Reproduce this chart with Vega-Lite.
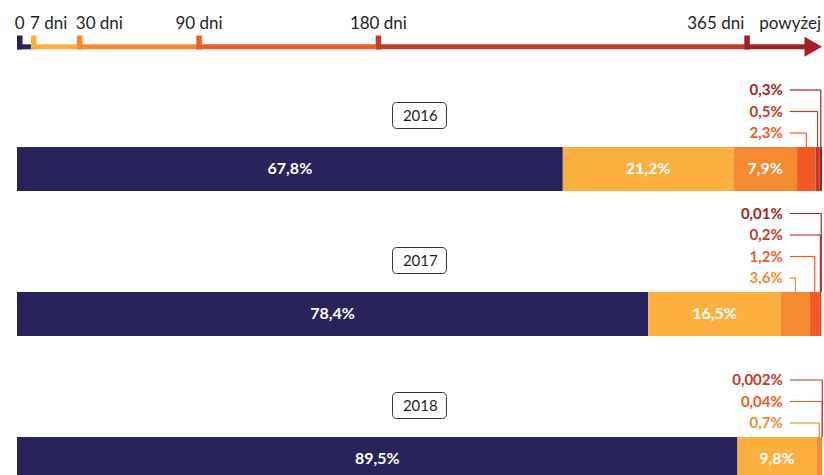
{
  "$schema": "https://vega.github.io/schema/vega-lite/v6.json",
  "width": 805,
  "height": 475,
  "padding": {"left": 17, "right": 2, "top": 0, "bottom": 0},
  "autosize": "none",
  "background": "white",
  "config": {
    "view": {"stroke": null},
    "axis": {"labels": false, "ticks": false, "domain": false, "grid": false, "title": null},
    "text": {"font": "Lato"}
  },
  "datasets": {
    "timeline": [
      {"cat": "0-7 dni", "start": 0, "end": 7, "label": "0"},
      {"cat": "7-30 dni", "start": 7, "end": 30, "label": "7 dni"},
      {"cat": "30-90 dni", "start": 30, "end": 90, "label": "30 dni"},
      {"cat": "90-180 dni", "start": 90, "end": 180, "label": "90 dni"},
      {"cat": "180-365 dni", "start": 180, "end": 365, "label": "180 dni"},
      {"cat": "powyżej 365 dni", "start": 365, "end": 398, "label": "365 dni", "after": "powyżej"}
    ],
    "shares": [
      {"year": 2016, "cat": "0-7 dni", "k": 1, "value": 67.8},
      {"year": 2016, "cat": "7-30 dni", "k": 2, "value": 21.2},
      {"year": 2016, "cat": "30-90 dni", "k": 3, "value": 7.9},
      {"year": 2016, "cat": "90-180 dni", "k": 4, "value": 2.3},
      {"year": 2016, "cat": "180-365 dni", "k": 5, "value": 0.5},
      {"year": 2016, "cat": "powyżej 365 dni", "k": 6, "value": 0.3},
      {"year": 2017, "cat": "0-7 dni", "k": 1, "value": 78.4},
      {"year": 2017, "cat": "7-30 dni", "k": 2, "value": 16.5},
      {"year": 2017, "cat": "30-90 dni", "k": 3, "value": 3.6},
      {"year": 2017, "cat": "90-180 dni", "k": 4, "value": 1.2},
      {"year": 2017, "cat": "180-365 dni", "k": 5, "value": 0.2},
      {"year": 2017, "cat": "powyżej 365 dni", "k": 6, "value": 0.01},
      {"year": 2018, "cat": "0-7 dni", "k": 1, "value": 89.5},
      {"year": 2018, "cat": "7-30 dni", "k": 2, "value": 9.8},
      {"year": 2018, "cat": "30-90 dni", "k": 3, "value": 0.7},
      {"year": 2018, "cat": "90-180 dni", "k": 4, "value": 0.04},
      {"year": 2018, "cat": "180-365 dni", "k": 5, "value": 0.002}
    ]
  },
  "resolve": {"scale": {"x": "independent"}},
  "layer": [
    {
      "data": {"name": "timeline"},
      "transform": [
        {"calculate": "4.68", "as": "lineY"},
        {"calculate": "4.25", "as": "tickY"},
        {"calculate": "2.9", "as": "labY"},
        {"calculate": "404", "as": "tip"}
      ],
      "layer": [
        {
          "mark": {"type": "rule", "strokeWidth": 5, "strokeCap": "butt"},
          "encoding": {
            "x": {"field": "start", "type": "quantitative", "scale": {"domain": [0, 404], "nice": false, "zero": false}, "axis": null},
            "x2": {"field": "end"},
            "y": {"field": "lineY", "type": "quantitative", "scale": {"domain": [0, 47.5], "reverse": true, "nice": false, "zero": false}, "axis": null},
            "color": {"field": "cat", "type": "nominal", "legend": null, "scale": {"domain": ["0-7 dni", "7-30 dni", "30-90 dni", "90-180 dni", "180-365 dni", "powyżej 365 dni"], "range": ["#29235c", "#fbb040", "#f58a33", "#f15a24", "#c53a2a", "#a51e24"]}}
          }
        },
        {
          "mark": {"type": "point", "shape": "M0,-1H0.79V1H0Z", "size": 196, "filled": true, "opacity": 1, "strokeWidth": 0},
          "encoding": {
            "x": {"field": "start", "type": "quantitative"},
            "y": {"field": "tickY", "type": "quantitative"},
            "color": {"field": "cat", "type": "nominal"}
          }
        },
        {
          "transform": [{"filter": "isValid(datum.after)"}],
          "mark": {"type": "point", "shape": "M0,0L-1.75,-1L-1.75,1Z", "size": 400, "filled": true, "opacity": 1, "strokeWidth": 0},
          "encoding": {
            "x": {"field": "tip", "type": "quantitative"},
            "y": {"field": "lineY", "type": "quantitative"},
            "color": {"field": "cat", "type": "nominal"}
          }
        },
        {
          "transform": [{"filter": {"field": "label", "oneOf": ["0", "90 dni", "180 dni"]}}],
          "mark": {"type": "text", "align": "center", "baseline": "alphabetic", "fontSize": 17, "dx": 2.75, "color": "#231f20"},
          "encoding": {
            "x": {"field": "start", "type": "quantitative"},
            "y": {"field": "labY", "type": "quantitative"},
            "text": {"field": "label"}
          }
        },
        {
          "transform": [{"filter": {"field": "label", "oneOf": ["7 dni", "30 dni"]}}],
          "mark": {"type": "text", "align": "left", "baseline": "alphabetic", "fontSize": 17, "dx": -1, "color": "#231f20"},
          "encoding": {
            "x": {"field": "start", "type": "quantitative"},
            "y": {"field": "labY", "type": "quantitative"},
            "text": {"field": "label"}
          }
        },
        {
          "transform": [{"filter": {"field": "label", "oneOf": ["365 dni"]}}],
          "mark": {"type": "text", "align": "right", "baseline": "alphabetic", "fontSize": 17, "dx": 0, "color": "#231f20"},
          "encoding": {
            "x": {"field": "start", "type": "quantitative"},
            "y": {"field": "labY", "type": "quantitative"},
            "text": {"field": "label"}
          }
        },
        {
          "transform": [{"filter": "isValid(datum.after)"}],
          "mark": {"type": "text", "align": "right", "baseline": "alphabetic", "fontSize": 17, "dx": -1, "color": "#231f20"},
          "encoding": {
            "x": {"field": "tip", "type": "quantitative"},
            "y": {"field": "labY", "type": "quantitative"},
            "text": {"field": "after"}
          }
        }
      ]
    },
    {
      "data": {"name": "shares"},
      "transform": [
        {"stack": "value", "groupby": ["year"], "sort": [{"field": "k", "order": "ascending"}], "as": ["s0", "s1"], "offset": "zero"},
        {"calculate": "(datum.s0 + datum.s1) / 2", "as": "mid"},
        {"calculate": "14.7 + 14.5 * (datum.year - 2016)", "as": "top"},
        {"calculate": "datum.top + 4.4", "as": "bot"},
        {"calculate": "datum.top + 2.2", "as": "cy"},
        {"calculate": "replace(toString(datum.value), '.', ',') + '%'", "as": "txt"},
        {"calculate": "96", "as": "lx"}
      ],
      "layer": [
        {
          "mark": {"type": "rect", "clip": true},
          "encoding": {
            "x": {"field": "s0", "type": "quantitative", "scale": {"domain": [0, 100], "nice": false, "zero": false}, "axis": null},
            "x2": {"field": "s1"},
            "y": {"field": "top", "type": "quantitative"},
            "y2": {"field": "bot"},
            "color": {"field": "cat", "type": "nominal"}
          }
        },
        {
          "transform": [{"filter": "datum.value >= 5"}],
          "mark": {"type": "text", "align": "center", "baseline": "middle", "fontSize": 16, "fontWeight": "bold", "color": "white"},
          "encoding": {
            "x": {"field": "mid", "type": "quantitative"},
            "y": {"field": "cy", "type": "quantitative"},
            "text": {"field": "txt"}
          }
        },
        {
          "transform": [
            {"filter": "datum.k == 1"},
            {"calculate": "datum.top - 4.45", "as": "b0"},
            {"calculate": "datum.top - 1.85", "as": "b1"},
            {"calculate": "datum.top - 3.12", "as": "bc"},
            {"calculate": "46.65", "as": "bx0"},
            {"calculate": "53.35", "as": "bx1"},
            {"calculate": "50.1", "as": "bxc"}
          ],
          "layer": [
            {
              "mark": {"type": "rect", "fill": "white", "stroke": "#333333", "strokeWidth": 1, "cornerRadius": 4},
              "encoding": {
                "x": {"field": "bx0", "type": "quantitative"},
                "x2": {"field": "bx1"},
                "y": {"field": "b0", "type": "quantitative"},
                "y2": {"field": "b1"}
              }
            },
            {
              "mark": {"type": "text", "align": "center", "baseline": "middle", "fontSize": 15, "color": "#231f20"},
              "encoding": {
                "x": {"field": "bxc", "type": "quantitative"},
                "y": {"field": "bc", "type": "quantitative"},
                "text": {"field": "year", "type": "nominal"}
              }
            }
          ]
        },
        {
          "transform": [
            {"filter": "datum.value < 5"},
            {"window": [{"op": "row_number", "as": "rank"}], "groupby": ["year"], "sort": [{"field": "k", "order": "ascending"}]},
            {"calculate": "datum.top - 1.4 - 2.15 * (datum.rank - 1)", "as": "ly"}
          ],
          "layer": [
            {
              "mark": {"type": "rule", "strokeWidth": 1.2},
              "encoding": {
                "x": {"field": "lx", "type": "quantitative"},
                "x2": {"field": "mid"},
                "y": {"field": "ly", "type": "quantitative"},
                "color": {"field": "cat", "type": "nominal"}
              }
            },
            {
              "mark": {"type": "rule", "strokeWidth": 1.2},
              "encoding": {
                "x": {"field": "mid", "type": "quantitative"},
                "y": {"field": "ly", "type": "quantitative"},
                "y2": {"field": "top"},
                "color": {"field": "cat", "type": "nominal"}
              }
            },
            {
              "mark": {"type": "text", "align": "right", "baseline": "middle", "fontSize": 15, "fontWeight": "bold", "dx": -7},
              "encoding": {
                "x": {"field": "lx", "type": "quantitative"},
                "y": {"field": "ly", "type": "quantitative"},
                "text": {"field": "txt"},
                "color": {"field": "cat", "type": "nominal"}
              }
            }
          ]
        }
      ]
    }
  ]
}
